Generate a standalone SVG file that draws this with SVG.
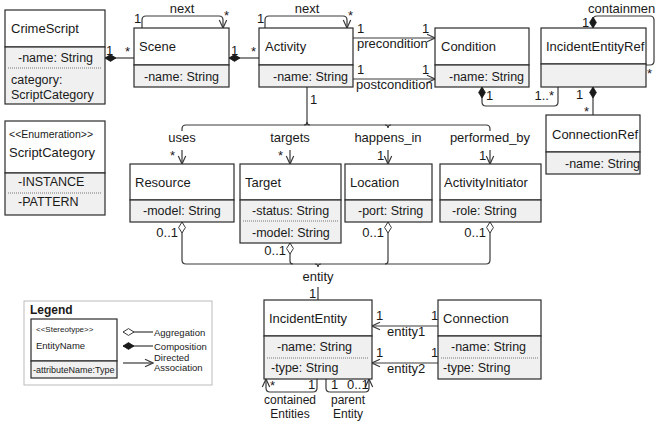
<svg xmlns="http://www.w3.org/2000/svg" width="655" height="424" viewBox="0 0 655 424">
<defs>
<style>
text{font-family:"Liberation Sans",Arial,sans-serif;font-size:13px;fill:#1a1a1a}
.at{font-size:12.5px}
.hd{fill:#fff;stroke:#2b2b2b;stroke-width:1.2}
.ac{fill:#f0f0f0;stroke:#2b2b2b;stroke-width:1.2}
.dt{stroke:#777;stroke-width:1;stroke-dasharray:1 1}
.ln{fill:none;stroke:#3a3a3a;stroke-width:1.2}
.mid{text-anchor:middle}
.end{text-anchor:end}
.lg{font-size:9.5px}
.rl{font-size:12px}
</style>
<marker id="arr" markerUnits="userSpaceOnUse" markerWidth="10" markerHeight="10" viewBox="0 0 10 10" refX="9.5" refY="5" orient="auto"><path d="M1.5,1.3 L9.5,5 L1.5,8.7" fill="none" stroke="#3a3a3a" stroke-width="1.2"/></marker>
<marker id="cmp" markerUnits="userSpaceOnUse" markerWidth="12" markerHeight="8" viewBox="0 0 12 8" refX="0.5" refY="4" orient="auto"><path d="M0.5,4 L6,0.6 L11.5,4 L6,7.4 Z" fill="#1a1a1a" stroke="#1a1a1a" stroke-width="0.8"/></marker>
<marker id="agg" markerUnits="userSpaceOnUse" markerWidth="12" markerHeight="8" viewBox="0 0 12 8" refX="0.5" refY="4" orient="auto"><path d="M0.5,4 L6,0.6 L11.5,4 L6,7.4 Z" fill="#fff" stroke="#3a3a3a" stroke-width="1"/></marker>
</defs>
<rect width="655" height="424" fill="#fff"/>

<g id="connectors">
<path class="ln" d="M105,58 H134" marker-start="url(#cmp)"/>
<path class="ln" d="M229,58 H259" marker-start="url(#cmp)"/>
<path class="ln" d="M142,28 V20 Q142,16 146,16 H219 Q223,16 223,20 V28" marker-end="url(#arr)"/>
<path class="ln" d="M265,28 V20 Q265,16 269,16 H343 Q347,16 347,20 V28" marker-end="url(#arr)"/>
<path class="ln" d="M353,38 H435" marker-end="url(#arr)"/>
<path class="ln" d="M353,79 H435" marker-end="url(#arr)"/>
<path class="ln" d="M307,87 V125"/>
<path class="ln" d="M182,131 V129 Q182,125 186,125 H486 Q490,125 490,129 V131"/>
<path class="ln" d="M304,125 Q307,125 307,122 Q307,125 310,125"/>
<path class="ln" d="M385,125 Q388,125 388,128 Q388,125 391,125"/>
<path class="ln" d="M182,150 V164" marker-end="url(#arr)"/>
<path class="ln" d="M290,150 V164" marker-end="url(#arr)"/>
<path class="ln" d="M388,150 V164" marker-end="url(#arr)"/>
<path class="ln" d="M490,150 V164" marker-end="url(#arr)"/>
<path class="ln" d="M182,222 V260 Q182,264 186,264 H318" marker-start="url(#agg)"/>
<path class="ln" d="M490,222 V260 Q490,264 486,264 H318" marker-start="url(#agg)"/>
<path class="ln" d="M290,243 V261 Q290,264 293,264" marker-start="url(#agg)"/>
<path class="ln" d="M388,222 V261 Q388,264 385,264" marker-start="url(#agg)"/>
<path class="ln" d="M315,264 Q318,264 318,267 Q318,264 321,264"/>
<path class="ln" d="M318,287 V300"/>
<path class="ln" d="M482,87 V102 Q482,106 486,106 H554 Q558,106 558,102 V87" marker-start="url(#cmp)"/>
<path class="ln" d="M593,87 V115" marker-start="url(#cmp)"/>
<path class="ln" d="M593,28 V20 Q593,16 597,16 H650 Q654,16 654,20 V61 Q654,65 650,65 H646" marker-start="url(#cmp)"/>
<path class="ln" d="M438,326 H372" marker-end="url(#arr)"/>
<path class="ln" d="M438,363 H372" marker-end="url(#arr)"/>
<path class="ln" d="M317,379 V388 Q317,392 313,392 H270 Q266,392 266,388 V379" marker-end="url(#arr)"/>
<path class="ln" d="M326,379 V388 Q326,392 330,392 H365 Q369,392 369,388 V379" marker-end="url(#arr)"/>

<text x="106" y="55">1</text>
<text x="125" y="56">*</text>
<text x="231" y="55">1</text>
<text x="251" y="56">*</text>
<text x="134" y="23">1</text>
<text x="224" y="20">*</text>
<text class="mid" x="182" y="13">next</text>
<text x="257" y="23">1</text>
<text x="348" y="20">*</text>
<text class="mid" x="307" y="13">next</text>
<text x="357" y="33">1</text>
<text x="422" y="33">1</text>
<text x="357" y="48">precondition</text>
<text x="357" y="74">1</text>
<text x="422" y="74">1</text>
<text x="356" y="89">postcondition</text>
<text x="310" y="104">1</text>
<text class="mid" x="182" y="142">uses</text>
<text class="mid" x="290" y="142">targets</text>
<text class="mid" x="388" y="142">happens_in</text>
<text class="mid" x="490" y="142">performed_by</text>
<text x="170" y="160">*</text>
<text x="278" y="160">*</text>
<text x="377" y="160">1</text>
<text x="479" y="160">1</text>
<text class="end" x="178" y="237">0..1</text>
<text class="end" x="286" y="255">0..1</text>
<text class="end" x="384" y="237">0..1</text>
<text class="end" x="486" y="237">0..1</text>
<text class="mid" x="318" y="281">entity</text>
<text x="309" y="298">1</text>
<text x="486" y="100">1</text>
<text class="end" x="554" y="100">1..*</text>
<text x="576" y="99">1</text>
<text x="584" y="116">*</text>
<text x="582" y="27">1</text>
<text x="647" y="78">*</text>
<text x="588" y="13">containmen</text>
<text x="376" y="320">1</text>
<text x="431" y="320">1</text>
<text x="387" y="336">entity1</text>
<text x="376" y="357">1</text>
<text x="431" y="357">1</text>
<text x="387" y="373">entity2</text>
<text x="270" y="390">*</text>
<text x="308" y="389">1</text>
<text x="331" y="389">1</text>
<text x="347" y="389">0..1</text>
<text class="mid rl" x="290" y="404">contained</text>
<text class="mid rl" x="290" y="418">Entities</text>
<text class="mid rl" x="348" y="404">parent</text>
<text class="mid rl" x="348" y="418">Entity</text>
</g>

<g id="CrimeScript">
<rect class="hd" x="5" y="10" width="100" height="37"/>
<rect class="ac" x="5" y="47" width="100" height="57"/>
<line class="dt" x1="8" y1="68" x2="102" y2="68"/>
<text x="11" y="33">CrimeScript</text>
<text class="at" x="18" y="62">-name: String</text>
<text class="at" x="11" y="84">category:</text>
<text class="at" x="11" y="99">ScriptCategory</text>
</g>

<g id="ScriptCategory">
<rect class="hd" x="5" y="121" width="100" height="52"/>
<rect class="ac" x="5" y="173" width="100" height="42"/>
<line class="dt" x1="8" y1="193" x2="102" y2="193"/>
<text x="9" y="138" style="font-size:10.5px">&lt;&lt;Enumeration&gt;&gt;</text>
<text x="9" y="157">ScriptCategory</text>
<text class="at" x="18" y="186">-INSTANCE</text>
<text class="at" x="18" y="206">-PATTERN</text>
</g>

<g id="Scene">
<rect class="hd" x="134" y="28" width="95" height="37"/>
<rect class="ac" x="134" y="65" width="95" height="22"/>
<text x="139" y="51">Scene</text>
<text class="at" x="144" y="81">-name: String</text>
</g>

<g id="Activity">
<rect class="hd" x="259" y="28" width="94" height="37"/>
<rect class="ac" x="259" y="65" width="94" height="22"/>
<text x="265" y="51">Activity</text>
<text class="at" x="273" y="81">-name: String</text>
</g>

<g id="Condition">
<rect class="hd" x="435" y="28" width="94" height="37"/>
<rect class="ac" x="435" y="65" width="94" height="22"/>
<text x="441" y="51">Condition</text>
<text class="at" x="449" y="81">-name: String</text>
</g>

<g id="IncidentEntityRef">
<rect class="hd" x="541" y="28" width="105" height="36"/>
<rect class="ac" x="541" y="64" width="105" height="23"/>
<text x="546" y="51">IncidentEntityRef</text>
</g>

<g id="ConnectionRef">
<rect class="hd" x="546" y="115" width="94" height="37"/>
<rect class="ac" x="546" y="152" width="94" height="22"/>
<text x="552" y="139">ConnectionRef</text>
<text class="at" x="565" y="168">-name: String</text>
</g>

<g id="Resource">
<rect class="hd" x="130" y="164" width="104" height="36"/>
<rect class="ac" x="130" y="200" width="104" height="22"/>
<text x="135" y="187">Resource</text>
<text class="at" x="143" y="215">-model: String</text>
</g>

<g id="Target">
<rect class="hd" x="240" y="164" width="101" height="36"/>
<rect class="ac" x="240" y="200" width="101" height="43"/>
<line class="dt" x1="243" y1="221" x2="338" y2="221"/>
<text x="245" y="187">Target</text>
<text class="at" x="252" y="215">-status: String</text>
<text class="at" x="252" y="237">-model: String</text>
</g>

<g id="Location">
<rect class="hd" x="345" y="164" width="87" height="36"/>
<rect class="ac" x="345" y="200" width="87" height="22"/>
<text x="350" y="187">Location</text>
<text class="at" x="358" y="215">-port: String</text>
</g>

<g id="ActivityInitiator">
<rect class="hd" x="440" y="164" width="101" height="36"/>
<rect class="ac" x="440" y="200" width="101" height="22"/>
<text x="444" y="187">ActivityInitiator</text>
<text class="at" x="452" y="215">-role: String</text>
</g>

<g id="IncidentEntity">
<rect class="hd" x="264" y="300" width="108" height="36"/>
<rect class="ac" x="264" y="336" width="108" height="43"/>
<line class="dt" x1="267" y1="358" x2="369" y2="358"/>
<text x="269" y="323">IncidentEntity</text>
<text class="at" x="277" y="351">-name: String</text>
<text class="at" x="271" y="372">-type: String</text>
</g>

<g id="Connection">
<rect class="hd" x="438" y="300" width="103" height="36"/>
<rect class="ac" x="438" y="336" width="103" height="43"/>
<line class="dt" x1="441" y1="358" x2="538" y2="358"/>
<text x="443" y="323">Connection</text>
<text class="at" x="451" y="351">-name: String</text>
<text class="at" x="443" y="372">-type: String</text>
</g>

<g id="Legend">
<rect x="24" y="301" width="188" height="84" fill="#fff" stroke="#bbb" stroke-width="1"/>
<text x="30" y="314" style="font-weight:bold;font-size:12px">Legend</text>
<rect class="hd" x="31" y="319" width="86" height="42"/>
<rect class="ac" x="31" y="361" width="86" height="17"/>
<text x="36" y="332" style="font-size:8px">&lt;&lt;Stereotype&gt;&gt;</text>
<text class="lg" x="36" y="349">EntityName</text>
<text x="33" y="373" style="font-size:9px">-attributeName:Type</text>
<path class="ln" d="M123,332 H153" marker-start="url(#agg)"/>
<path class="ln" d="M123,346 H153" marker-start="url(#cmp)"/>
<path class="ln" d="M123,363 H153" marker-end="url(#arr)"/>
<text class="lg" x="154" y="336">Aggregation</text>
<text class="lg" x="154" y="350">Composition</text>
<text class="lg" x="154" y="361">Directed</text>
<text class="lg" x="154" y="371">Association</text>
</g>
</svg>
